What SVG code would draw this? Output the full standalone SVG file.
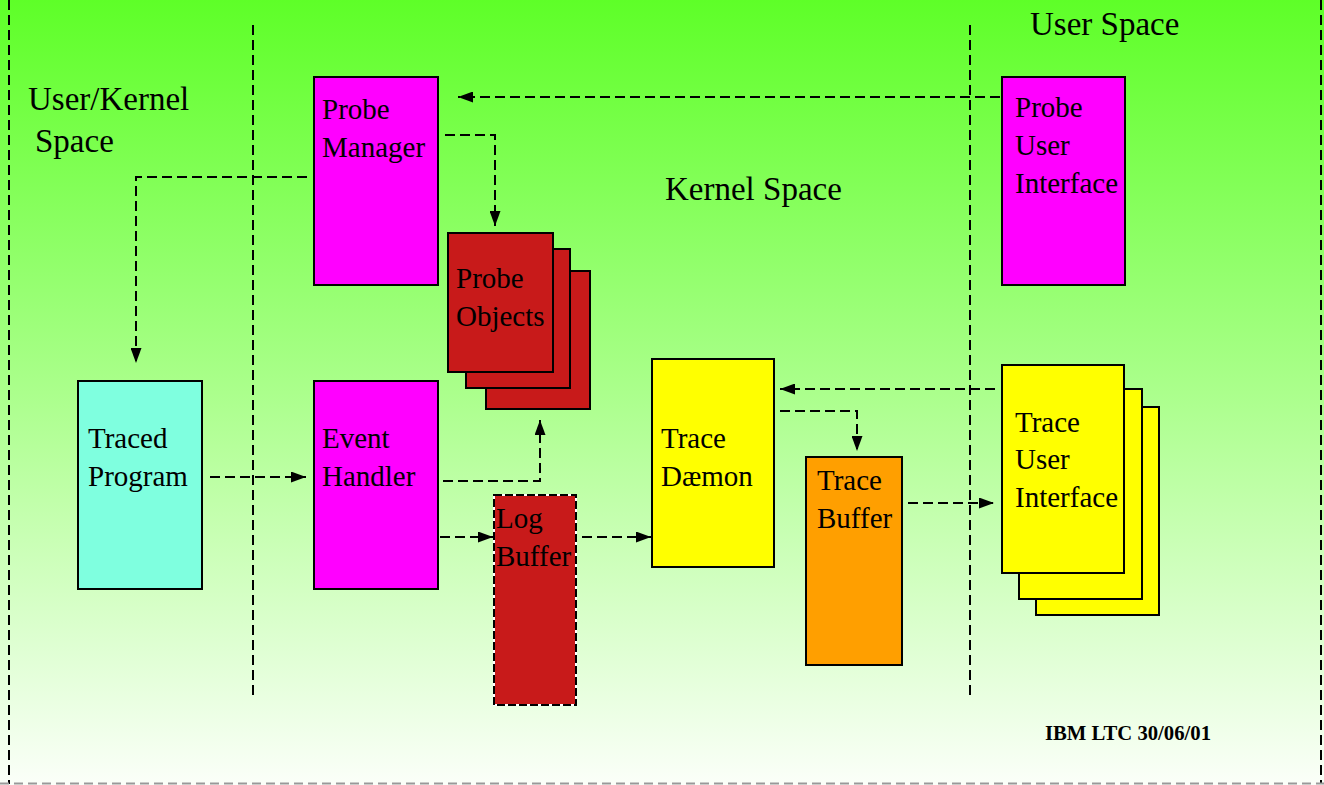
<svg xmlns="http://www.w3.org/2000/svg" width="1324" height="785" viewBox="0 0 1324 785">
<defs>
<linearGradient id="bg" x1="0" y1="0" x2="0" y2="1">
<stop offset="0" stop-color="#5eff28"/>
<stop offset="0.5" stop-color="#abff8c"/>
<stop offset="1" stop-color="#fbfff9"/>
</linearGradient>
<marker id="ah" viewBox="0 0 15 11" refX="15" refY="5.5" markerWidth="15" markerHeight="11" markerUnits="userSpaceOnUse" orient="auto">
<path d="M0,0 L15,5.5 L0,11 z" fill="#000"/>
</marker>
<style>
.t{font-family:"Liberation Serif","Times New Roman",serif;font-size:29px;fill:#000}
.lbl{font-family:"Liberation Serif","Times New Roman",serif;font-size:33px;fill:#000}
.box{stroke:#000;stroke-width:2}
.dash{fill:none;stroke:#000;stroke-width:2;stroke-dasharray:10,5}
.pink{fill:#ff00ff}
.red{fill:#c81a1a}
.yel{fill:#ffff00}
</style>
</defs>
<rect x="0" y="0" width="1324" height="785" fill="url(#bg)"/>
<g id="frame">
<path class="dash" d="M9,0 V784"/>
<path class="dash" d="M1321,0 V784"/>
<path d="M0,783.5 H1324" fill="none" stroke="#999" stroke-width="2" stroke-dasharray="9,5"/>
<path class="dash" d="M253,25 V695"/>
<path class="dash" d="M970,25 V695"/>
</g>
<g id="labels">
<text class="lbl" x="28" y="110">User/Kernel</text>
<text class="lbl" x="35" y="152">Space</text>
<text class="lbl" x="1030" y="35">User Space</text>
<text class="lbl" x="665" y="200">Kernel Space</text>
<text x="1045" y="740" font-family="Liberation Serif,Times New Roman,serif" font-size="21" font-weight="bold" textLength="166" lengthAdjust="spacingAndGlyphs">IBM LTC 30/06/01</text>
</g>
<g id="connectors">
<path class="dash" d="M1000,97 H458" marker-end="url(#ah)"/>
<path class="dash" d="M445,135 H495 V226" marker-end="url(#ah)"/>
<path class="dash" d="M307,177 H136 V363" marker-end="url(#ah)"/>
<path class="dash" d="M210,477 H306" marker-end="url(#ah)"/>
<path class="dash" d="M443,481 H540 V420" marker-end="url(#ah)"/>
<path class="dash" d="M440,537 H493" marker-end="url(#ah)"/>
<path class="dash" d="M582,537 H651" marker-end="url(#ah)"/>
<path class="dash" d="M995,389 H780" marker-end="url(#ah)"/>
<path class="dash" d="M780,411 H857 V451" marker-end="url(#ah)"/>
<path class="dash" d="M908,503 H994" marker-end="url(#ah)"/>
</g>
<g id="probe-manager">
<rect class="box pink" x="314" y="77" width="124" height="208"/>
<text class="t" x="322" y="119">Probe</text>
<text class="t" x="322" y="157">Manager</text>
</g>
<g id="probe-user-interface">
<rect class="box pink" x="1002" y="77" width="123" height="208"/>
<text class="t" x="1015" y="117">Probe</text>
<text class="t" x="1015" y="155">User</text>
<text class="t" x="1015" y="193">Interface</text>
</g>
<g id="probe-objects">
<rect class="box red" x="486" y="271" width="104" height="138"/>
<rect class="box red" x="466" y="249" width="104" height="139"/>
<rect class="box red" x="448" y="233" width="105" height="139"/>
<text class="t" x="456" y="288">Probe</text>
<text class="t" x="456" y="326">Objects</text>
</g>
<g id="traced-program">
<rect class="box" fill="#7fffdf" x="78" y="381" width="124" height="208"/>
<text class="t" x="88" y="448">Traced</text>
<text class="t" x="88" y="486">Program</text>
</g>
<g id="event-handler">
<rect class="box pink" x="314" y="381" width="124" height="208"/>
<text class="t" x="322" y="448">Event</text>
<text class="t" x="322" y="486">Handler</text>
</g>
<g id="log-buffer">
<rect class="red" x="494" y="495" width="82" height="210"/>
<rect x="494" y="495" width="82" height="210" fill="none" stroke="#fff" stroke-width="2"/>
<rect x="494" y="495" width="82" height="210" fill="none" stroke="#000" stroke-width="2" stroke-dasharray="8,3"/>
<text class="t" x="496" y="528">Log</text>
<text class="t" x="496" y="566">Buffer</text>
</g>
<g id="trace-daemon">
<rect class="box yel" x="652" y="359" width="122" height="208"/>
<text class="t" x="661" y="448">Trace</text>
<text class="t" x="661" y="486">Dæmon</text>
</g>
<g id="trace-buffer">
<rect class="box" fill="#ff9f00" x="806" y="457" width="96" height="208"/>
<text class="t" x="817" y="490">Trace</text>
<text class="t" x="817" y="528">Buffer</text>
</g>
<g id="trace-user-interface">
<rect class="box yel" x="1036" y="407" width="123" height="208"/>
<rect class="box yel" x="1019" y="389" width="123" height="210"/>
<rect class="box yel" x="1002" y="365" width="122" height="208"/>
<text class="t" x="1015" y="432">Trace</text>
<text class="t" x="1015" y="469">User</text>
<text class="t" x="1015" y="507">Interface</text>
</g>
</svg>
